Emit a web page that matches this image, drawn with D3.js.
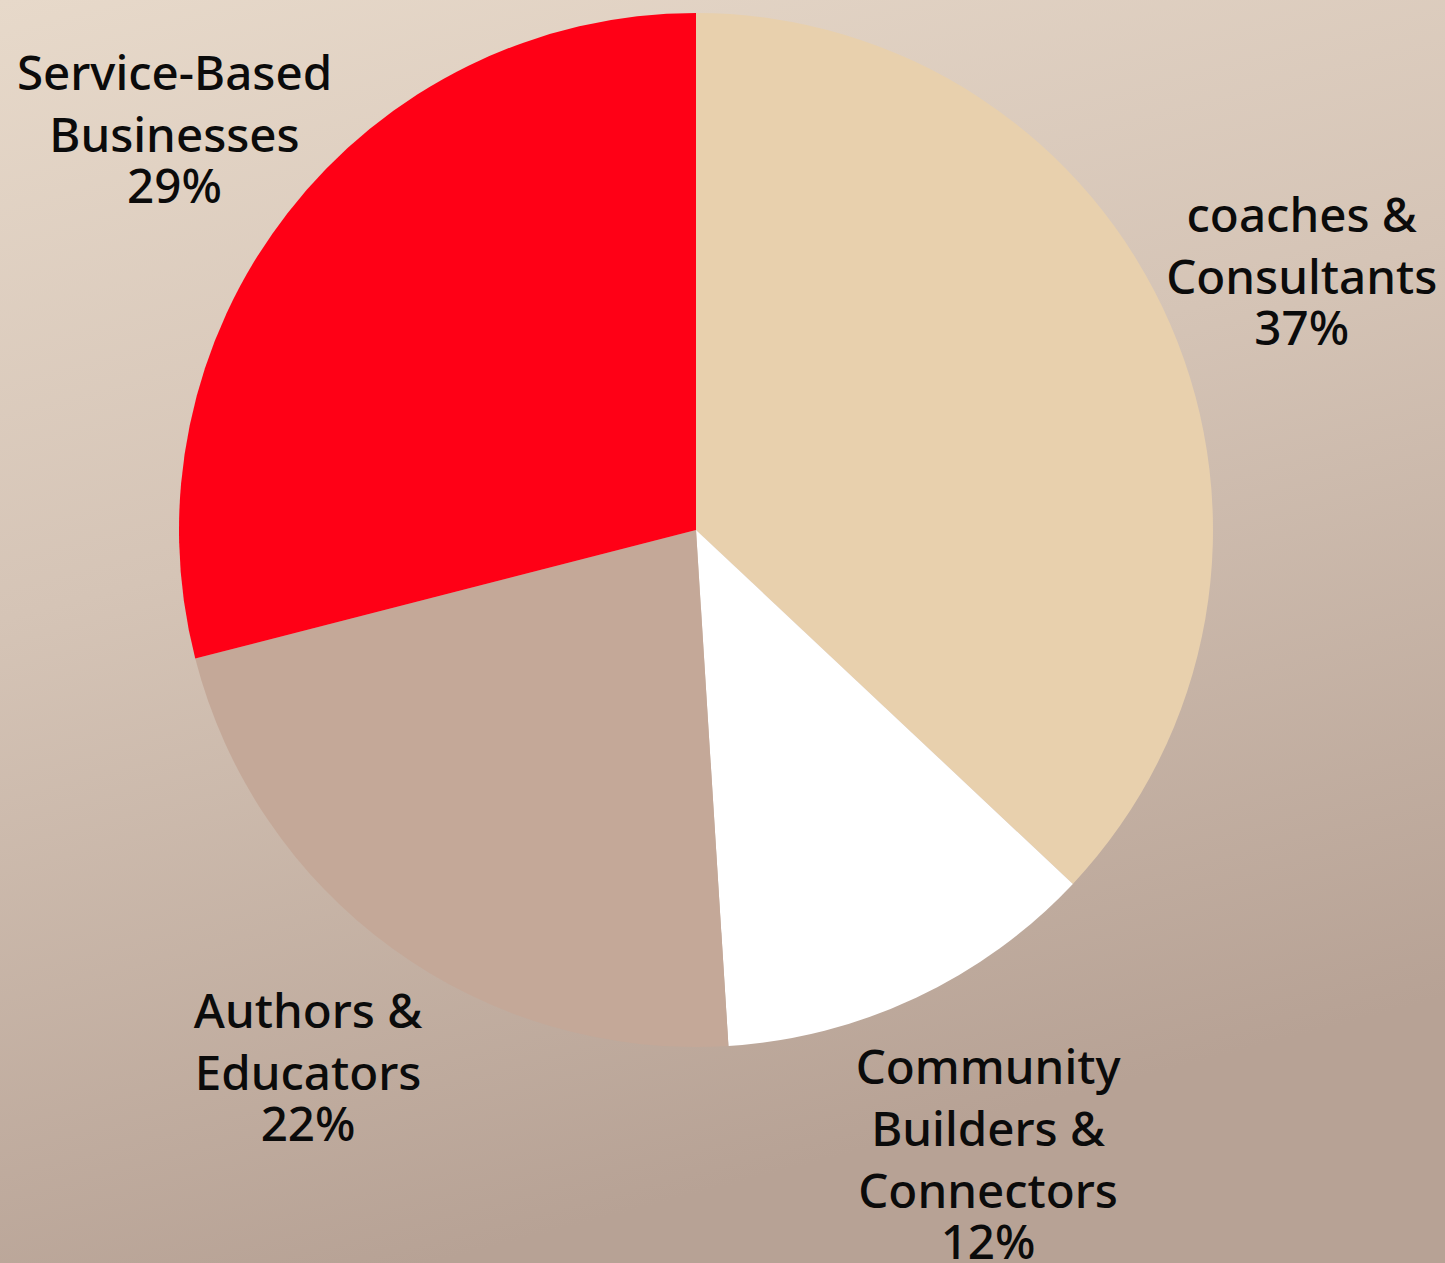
<!DOCTYPE html>
<html>
<head>
<meta charset="utf-8">
<script src="https://cdn.jsdelivr.net/npm/d3@7"></script>
<style>
  html, body { margin: 0; padding: 0; }
  svg { display: block; }
</style>
</head>
<body>
<div class="chart"></div>
<script>
// chart data (clockwise from 12 o'clock)
var categories = ["coaches & Consultants", "Community Builders & Connectors", "Authors & Educators", "Service-Based Businesses"];
var labelLines = [["coaches &", "Consultants"], ["Community", "Builders &", "Connectors"], ["Authors &", "Educators"], ["Service-Based", "Businesses"]];
var values = [37, 12, 22, 29];
var colors = ["#e8d0ad", "#ffffff", "#c4a898", "#ff0016"];

var width = 1445;
var height = 1263;
var cx = 696, cy = 530;
var radius = 517;

var svg = d3.select("div.chart")
    .append("svg")
    .attr("width", width)
    .attr("height", height);

// background gradient, light beige top-left to darker taupe at the bottom
var defs = svg.append("defs");
var grad = defs.append("linearGradient")
    .attr("id", "bg")
    .attr("x1", "0").attr("y1", "0")
    .attr("x2", "0.3").attr("y2", "1");
grad.append("stop").attr("offset", "0%").attr("stop-color", "#e7d9ca");
grad.append("stop").attr("offset", "45%").attr("stop-color", "#d5c4b6");
grad.append("stop").attr("offset", "100%").attr("stop-color", "#b7a295");

svg.append("rect")
    .attr("width", width)
    .attr("height", height)
    .attr("fill", "url(#bg)");

var data = categories.map((c, i) => ({ name: c, lines: labelLines[i], value: values[i], color: colors[i] }));

var pie = d3.pie()
    .sort(null)
    .value(d => d.value);

var arc = d3.arc()
    .innerRadius(0)
    .outerRadius(radius);

var arcs = pie(data);

var g = svg.append("g")
    .attr("transform", `translate(${cx},${cy})`);

g.selectAll("path")
    .data(arcs)
    .join("path")
      .attr("d", arc)
      .attr("fill", d => d.data.color);

// labels sit outside the pie, along each slice's middle angle
var lineGap = 62, pctGap = 51, capH = 34;
var labels = g.append("g")
    .attr("font-family", "'Noto Sans', 'Open Sans', sans-serif")
    .attr("font-weight", 500)
    .attr("font-size", 47.5)
    .attr("fill", "#0b0b0b")
    .attr("text-anchor", "middle");

arcs.forEach(function (a) {
    var lines = a.data.lines;
    var n = lines.length + 1;
    var r = 660 + (n - 3) * 26;
    var pos = d3.arc().innerRadius(r).outerRadius(r).centroid(a);
    var blockH = capH + (lines.length - 1) * lineGap + pctGap;
    var y0 = pos[1] - blockH / 2 + capH + 4;
    var t = labels.append("text");
    lines.forEach(function (l, i) {
        t.append("tspan")
            .attr("x", pos[0])
            .attr("y", y0 + i * lineGap)
            .text(l);
    });
    t.append("tspan")
        .attr("x", pos[0])
        .attr("y", y0 + (lines.length - 1) * lineGap + pctGap)
        .text(a.data.value + "%");
});
</script>
</body>
</html>
